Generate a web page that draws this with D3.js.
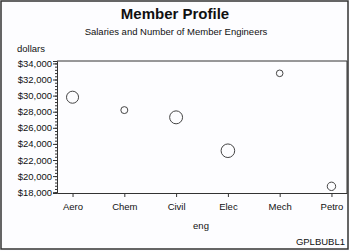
<!DOCTYPE html>
<html>
<head>
<meta charset="utf-8">
<script src="https://cdn.jsdelivr.net/npm/d3@7"></script>
<style>
  body { margin: 0; background: #fff; }
  text { font-family: "Liberation Sans", Arial, sans-serif; fill: #111; }
</style>
</head>
<body>
<div id="chart"></div>
<script>
// data
var engs = ["Aero", "Chem", "Civil", "Elec", "Mech", "Petro"];
var salaries = [29800, 28200, 27300, 23150, 32770, 18730];
var members = [33, 11, 38, 42, 10, 16];
var yTicks = [18000, 20000, 22000, 24000, 26000, 28000, 30000, 32000, 34000];

var width = 350, height = 251;
var margin = {top: 61, right: 3, bottom: 58, left: 57};

var svg = d3.select("#chart").append("svg")
    .attr("width", width)
    .attr("height", height);

svg.append("rect")
    .attr("width", width).attr("height", height)
    .attr("fill", "#fdfdff");

// outer border
svg.append("rect")
    .attr("x", 1).attr("y", 1)
    .attr("width", 347).attr("height", 248)
    .attr("fill", "none")
    .attr("stroke", "#333")
    .attr("stroke-width", 1.5);

var x = d3.scalePoint()
    .domain(engs)
    .range([margin.left, width - margin.right])
    .padding(0.3);

var y = d3.scaleLinear()
    .domain([17900, 34300])
    .range([height - margin.bottom, margin.top]);

var r = d3.scaleSqrt()
    .domain([0, d3.max(members)])
    .range([0, 6.8]);

// titles
svg.append("text")
    .attr("x", 175).attr("y", 19)
    .attr("text-anchor", "middle")
    .style("font-size", "15px")
    .style("font-weight", "bold")
    .text("Member Profile");

svg.append("text")
    .attr("x", 176).attr("y", 35)
    .attr("text-anchor", "middle")
    .style("font-size", "9.5px")
    .text("Salaries and Number of Member Engineers");

svg.append("text")
    .attr("x", 17).attr("y", 52)
    .style("font-size", "9.5px")
    .text("dollars");

// plot frame (top and right)
svg.append("path")
    .attr("d", "M" + margin.left + "," + margin.top + "H" + (width - margin.right) + "V" + (height - margin.bottom))
    .attr("fill", "none")
    .attr("stroke", "#333");

// y axis with minor ticks
var minor = d3.range(18000, 34001, 400);
var yMinor = svg.append("g")
    .attr("transform", "translate(" + margin.left + ",0)")
    .call(d3.axisLeft(y).tickValues(minor).tickSize(2).tickFormat(""));
yMinor.select(".domain").remove();
yMinor.selectAll("line").attr("stroke", "#333");

var yAxis = svg.append("g")
    .attr("transform", "translate(" + margin.left + ",0)")
    .call(d3.axisLeft(y).tickValues(yTicks).tickSize(4).tickPadding(1)
        .tickFormat(d3.format("$,.0f")));
yAxis.select(".domain").attr("stroke", "#333");
yAxis.selectAll("line").attr("stroke", "#333");
yAxis.selectAll("text").style("font-size", "9.5px").attr("fill", "#111");

// x axis
var xAxis = svg.append("g")
    .attr("transform", "translate(0," + (height - margin.bottom) + ")")
    .call(d3.axisBottom(x).tickSize(4).tickPadding(6).tickSizeOuter(0));
xAxis.select(".domain").attr("stroke", "#333");
xAxis.selectAll("line").attr("stroke", "#333");
xAxis.selectAll("text").style("font-size", "9.5px").attr("fill", "#111");

svg.append("text")
    .attr("x", 201).attr("y", 229)
    .attr("text-anchor", "middle")
    .style("font-size", "9.5px")
    .text("eng");

svg.append("text")
    .attr("x", 345).attr("y", 245)
    .attr("text-anchor", "end")
    .style("font-size", "9.5px")
    .text("GPLBUBL1");

// bubbles
svg.append("g").selectAll("circle")
    .data(engs)
    .enter().append("circle")
    .attr("cx", function (d) { return x(d); })
    .attr("cy", function (d, i) { return y(salaries[i]); })
    .attr("r", function (d, i) { return r(members[i]); })
    .attr("fill", "none")
    .attr("stroke", "#444")
    .attr("stroke-width", 1);
</script>
</body>
</html>
